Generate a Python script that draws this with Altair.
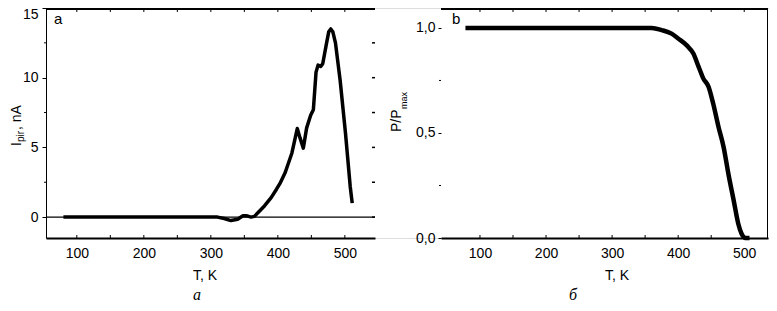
import altair as alt
import pandas as pd

# ---- data ----
T_pir = [80, 120, 160, 200, 240, 280, 310, 320, 330, 340, 348, 353, 360, 365, 372, 380,
         390, 398, 403, 411, 421, 429, 433, 438, 443, 449, 453, 457, 460, 464, 467, 472,
         476, 479, 482, 486, 493, 501, 508, 511]
I_pir = [0, 0, 0, 0, 0, 0, 0, -0.1, -0.25, -0.15, 0.1, 0.1, 0.0, 0.05, 0.4, 0.8,
         1.4, 2.0, 2.4, 3.2, 4.6, 6.35, 5.7, 4.95, 6.4, 7.3, 7.7, 10.4, 10.9, 10.8, 11.0, 12.3,
         13.3, 13.5, 13.3, 12.5, 9.8, 6.0, 2.2, 1.0]

T_pol = [78, 150, 250, 330, 360, 375, 390, 400, 413, 423, 431, 438, 446, 453, 461, 469,
         476, 484, 491, 496, 502, 508]
P_pol = [1.0, 1.0, 1.0, 1.0, 1.0, 0.99, 0.973, 0.95, 0.917, 0.878, 0.815, 0.76, 0.72, 0.64,
         0.53, 0.43, 0.306, 0.18, 0.068, 0.02, 0.0, 0.0]

x_major = [100, 200, 300, 400, 500]
x_inner_ticks = [100, 150, 200, 250, 300, 350, 400, 450, 500]
a_y_major = [0, 5, 10, 15]
a_y_minor = [2.5, 7.5, 12.5]
a_y_right = [0, 2.5, 5, 7.5, 10, 12.5]
b_y_major = [0.0, 0.5, 1.0]
b_y_minor = [0.25, 0.75]

# ---- layout (pixels inside the single view) ----
H = 230
AX0, AX1 = 0, 329        # panel a plot range
BX0, BX1 = 395, 722      # panel b plot range
VIEW_W = 723
FONT = "Liberation Sans"
SERIF = "Liberation Serif"

df_a = pd.DataFrame({"T": T_pir, "I": I_pir})
df_b = pd.DataFrame({"T": T_pol, "P": P_pol})
one = pd.DataFrame({"k": [0]})

xs_a = alt.Scale(domain=[54, 545], range=[AX0, AX1], nice=False, zero=False)
ys_a = alt.Scale(domain=[-1.5, 15], range=[H, 0], nice=False, zero=False)
xs_b = alt.Scale(domain=[41, 536], range=[BX0, BX1], nice=False, zero=False)
ys_b = alt.Scale(domain=[0, 1.095], range=[H, 0], nice=False, zero=False)


def vals(v):
    return pd.DataFrame({"v": v})


def txt(s, x, y, size=14, angle=0, align="left", baseline="alphabetic", font=FONT, style="normal"):
    kw = dict(text=s, fontSize=size, align=align, baseline=baseline, font=font,
              color="black", fontStyle=style)
    if angle:
        kw["angle"] = angle
    return alt.Chart(one).mark_text(**kw).encode(x=alt.value(x), y=alt.value(y))


def frame_rule(x0, x1, y0, y1, w):
    return alt.Chart(one).mark_rule(color="black", strokeWidth=w).encode(
        x=alt.value(x0), x2=alt.value(x1), y=alt.value(y0), y2=alt.value(y1))


def xticks(scale, y0, y1):
    return alt.Chart(vals(x_inner_ticks)).mark_rule(color="black", strokeWidth=1).encode(
        x=alt.X("v:Q", scale=scale, axis=None), y=alt.value(y0), y2=alt.value(y1))


def yticks(values, scale, x0, x1, w=1):
    return alt.Chart(vals(values)).mark_rule(color="black", strokeWidth=w).encode(
        y=alt.Y("v:Q", scale=scale, axis=None), x=alt.value(x0), x2=alt.value(x1))


x_axis = dict(values=x_major, title=None, orient="bottom", ticks=False, tickSize=0,
              domainWidth=2, domainColor="black", labelFontSize=14, labelFont=FONT,
              labelColor="black", labelPadding=8, grid=False, labelFlush=False)

# ---------------- panel a ----------------
line_a = alt.Chart(df_a).mark_line(color="black", strokeWidth=3.5, strokeJoin="round").encode(
    x=alt.X("T:Q", scale=xs_a, axis=alt.Axis(**x_axis)),
    y=alt.Y("I:Q", scale=ys_a, axis=alt.Axis(values=a_y_major, title=None, orient="left",
                                              tickSize=4, tickColor="black", domainColor="black",
                                              domainWidth=1, labelPadding=4, labelFlush=True,
                                              labelFlushOffset=1,
                                              grid=False, labelFontSize=14, labelFont=FONT,
                                              labelColor="black")))

zero_a = alt.Chart(pd.DataFrame({"z": [0]})).mark_rule(color="black", strokeWidth=1.2).encode(
    y=alt.Y("z:Q", scale=ys_a, axis=None), x=alt.value(AX0), x2=alt.value(AX1))

# ---------------- panel b ----------------
line_b = alt.Chart(df_b).mark_line(color="black", strokeWidth=4.5, strokeJoin="round",
                                   interpolate="monotone").encode(
    x=alt.X("T:Q", scale=xs_b, axis=alt.Axis(**x_axis)),
    y=alt.Y("P:Q", scale=ys_b, axis=alt.Axis(values=b_y_major, title=None, orient="left",
                                              offset=-BX0, tickSize=3, tickColor="black",
                                              domain=False, labelPadding=3, labelFlush=False,
                                              grid=False, labelFontSize=14, labelFont=FONT,
                                              labelColor="black",
                                              labelExpr="replace(format(datum.value, '.1f'), '.', ',')")))

TITLE_Y = 272
CAP_Y = 292

layers = [
    # panel a furniture
    zero_a,
    yticks(a_y_minor, ys_a, AX0 - 2, AX0),
    yticks(a_y_right, ys_a, AX1 - 3, AX1, 1.5),
    xticks(xs_a, H - 3, H),
    xticks(xs_a, 1, 4),
    frame_rule(AX0, AX1, 1, 1, 2),
    line_a,
    txt("a", AX0 + 8, 16, size=15),
    txt("I", AX0 - 25, 138, angle=270),
    txt("pir", AX0 - 22, 134, size=10, angle=270),
    txt(", nA", AX0 - 25, 122, angle=270),
    txt("T, K", AX0 + 147, TITLE_Y),
    txt("а", AX0 + 151, CAP_Y, size=16, align="center", font=SERIF, style="italic"),
    # panel b furniture
    yticks(b_y_minor, ys_b, BX0 - 2, BX0),
    xticks(xs_b, H - 3, H),
    xticks(xs_b, 1, 4),
    frame_rule(BX0, BX1, 1, 1, 2),
    frame_rule(BX1 - 0.5, BX1 - 0.5, 0, H, 1),
    line_b,
    txt("b", BX0 + 11, 16, size=15),
    txt("P/P", BX0 - 40, 124, angle=270),
    txt("max", BX0 - 34, 101, size=9, angle=270),
    txt("T, K", BX0 + 164, TITLE_Y),
    txt("б", BX0 + 132, CAP_Y, size=16, align="center", font=SERIF, style="italic"),
]

chart = alt.layer(*layers).resolve_scale(
    x="independent", y="independent"
).resolve_axis(
    x="independent", y="independent"
).properties(
    width=VIEW_W, height=H,
    autosize=alt.AutoSizeParams(type="none"),
    padding={"left": 38, "top": 0, "right": 0, "bottom": 65},
).configure_view(stroke=None).configure(background="white")

chart.save("out.html", embed_options={"renderer": "svg", "actions": False})
